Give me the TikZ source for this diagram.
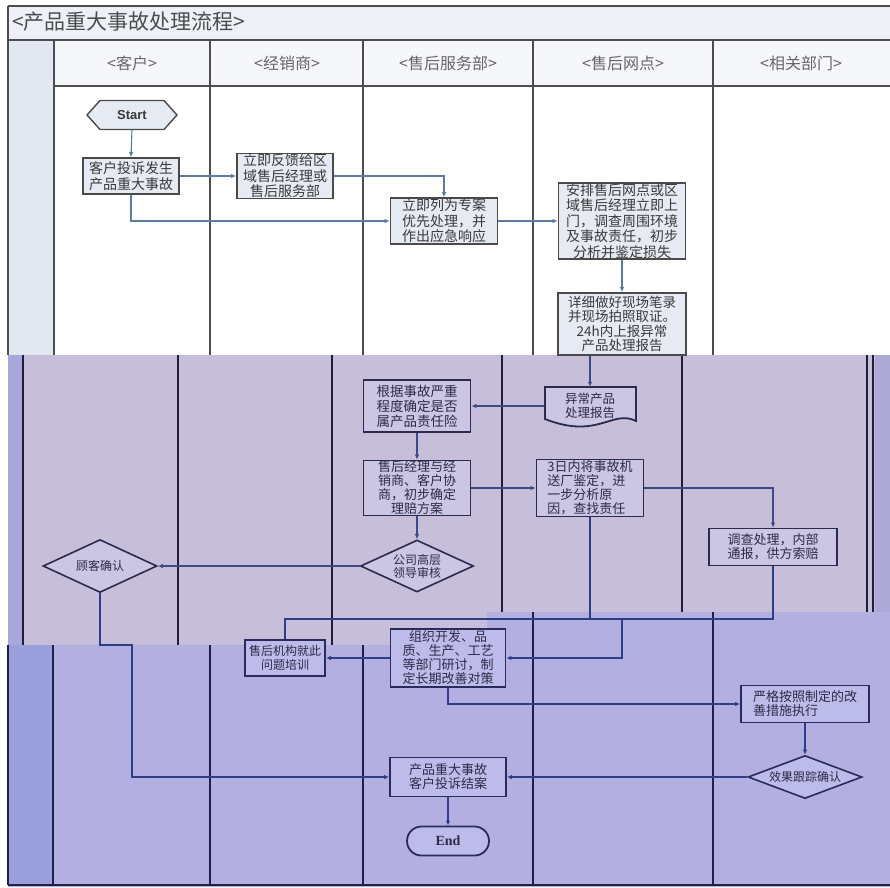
\documentclass[tikz,border=0pt]{standalone}
\usepackage{fontspec}
\setmainfont{Liberation Serif}
\newfontfamily\cjk{Noto Sans CJK SC}
\newfontfamily\sansb{Liberation Sans}
\usetikzlibrary{arrows.meta,shapes.geometric}
\definecolor{titlefill}{HTML}{EDF0F7}
\definecolor{headfill}{HTML}{F6F7FB}
\definecolor{stripA}{HTML}{E2E7F2}
\definecolor{lineA}{HTML}{4A4A4A}
\definecolor{fillA}{HTML}{E6EAF3}
\definecolor{txtA}{HTML}{3A3A3A}
\definecolor{laneA}{HTML}{4D4D4D}
\definecolor{midbg}{HTML}{C7BFD9}
\definecolor{stripB}{HTML}{A7A7D9}
\definecolor{stripBB}{HTML}{ACA9D6}
\definecolor{fillB}{HTML}{CAC6E4}
\definecolor{lineB}{HTML}{2C2A4E}
\definecolor{txtB}{HTML}{2C2B48}
\definecolor{laneB}{HTML}{1F1D3C}
\definecolor{botbg}{HTML}{B3B0E1}
\definecolor{stripC}{HTML}{9A9EDB}
\definecolor{fillC}{HTML}{BDBBEA}
\definecolor{lineC}{HTML}{2A2A5C}
\definecolor{laneC}{HTML}{1F1F4A}
\definecolor{connA}{HTML}{5A7AA8}
\definecolor{connB}{HTML}{3D4A88}
\definecolor{connC}{HTML}{2E3D8A}
\begin{document}
\begin{tikzpicture}[x=1pt,y=-1pt,
  boxA/.style={draw=lineA, fill=fillA, line width=1.6pt, inner sep=0pt, align=center, text=txtA, font=\cjk\fontsize{14}{15.5}\selectfont},
  boxB/.style={draw=lineB, fill=fillB, line width=1.8pt, inner sep=0pt, align=center, text=txtB, font=\cjk\fontsize{13}{14}\selectfont},
  boxC/.style={draw=lineC, fill=fillC, line width=1.8pt, inner sep=0pt, align=center, text=txtB, font=\cjk\fontsize{13}{14}\selectfont},
  diaB/.style={boxB, diamond, line width=1.6pt, font=\cjk\fontsize{12}{13}\selectfont},
  diaC/.style={boxC, diamond, line width=1.6pt, font=\cjk\fontsize{12}{13}\selectfont},
  sz/.style 2 args={minimum width=#1pt, minimum height=#2pt},
  laneA/.style={draw=laneA, line width=1.8pt},
  laneB/.style={draw=laneB, line width=2.2pt},
  laneC/.style={draw=laneC, line width=2.2pt},
  head/.style={font=\cjk\fontsize{16}{18}\selectfont, text=black!60},
  arr/.style={-{Latex[length=5pt,width=4.5pt]}, line width=1.1pt},
  connA/.style={arr, draw=connA},
  connB/.style={arr, draw=connB},
  connC/.style={arr, draw=connC},
  plainC/.style={line width=1.1pt, draw=connC}
]
\useasboundingbox (0,0) rectangle (890,887);
\fill[white] (0,0) rectangle (890,887);
% ---------- top band ----------
\fill[titlefill] (8,6) rectangle (890,40);
\fill[headfill] (54,40) rectangle (890,86);
\fill[stripA] (8,40) rectangle (54,355);
% ---------- middle band ----------
\fill[midbg] (8,355) -- (890,355) -- (890,612) -- (487,612) -- (487,645) -- (8,645) -- cycle;
\fill[stripB] (8,355) rectangle (23,645);
\fill[stripBB] (875,355) rectangle (890,612);
% ---------- bottom band ----------
\fill[botbg] (8,645) -- (487,645) -- (487,612) -- (890,612) -- (890,887) -- (8,887) -- cycle;
\fill[stripC] (8,645) rectangle (53,885);
% lane lines top
\draw[laneA, line width=1.5pt] (8,6) -- (890,6);
\draw[laneA, line width=1.5pt] (8,40) -- (890,40);
\draw[laneA, line width=1.5pt] (54,86) -- (890,86);
\draw[laneA] (8,6) -- (8,355);
\foreach \xx in {54,210,363,533,713} \draw[laneA] (\xx,40) -- (\xx,355);
% lane lines middle
\foreach \xx in {23,178,332} \draw[laneB] (\xx,355) -- (\xx,645);
\foreach \xx in {502,682,867,873} \draw[laneB] (\xx,355) -- (\xx,612);
% lane lines bottom
\foreach \xx in {8,53,210,363} \draw[laneC] (\xx,645) -- (\xx,885);
\foreach \xx in {533,713} \draw[laneC] (\xx,612) -- (\xx,885);
\draw[laneC] (8,885) -- (890,885);
% title and headers
\node[font=\cjk\fontsize{21}{23}\selectfont, text=black!70, anchor=west, inner sep=0pt] (title) at (12,22) {<产品重大事故处理流程>};
\node[head] (h1) at (132,63) {<客户>};
\node[head] (h2) at (287,63) {<经销商>};
\node[head] (h3) at (448,63) {<售后服务部>};
\node[head] (h4) at (623,63) {<售后网点>};
\node[head] (h5) at (801,63) {<相关部门>};
% ---------- top nodes ----------
\filldraw[fill=fillA, draw=lineA, line width=1.4pt] (87,115) -- (100,100.5) -- (164,100.5) -- (177,115) -- (164,129.5) -- (100,129.5) -- cycle;
\node[font=\sansb\bfseries\fontsize{13}{15}\selectfont, text=txtA, sz={90}{29}, inner sep=0pt] (start) at (132,115) {Start};
\node[boxA, sz={96}{36}] (kehu) at (131,176) {客户投诉发生\\产品重大事故};
\node[boxA, sz={96}{45}] (fankui) at (285,176) {立即反馈给区\\域售后经理或\\售后服务部};
\node[boxA, sz={107}{46}] (liji) at (444,221) {立即列为专案\\优先处理，并\\作出应急响应};
\node[boxA, sz={127}{76}] (anpai) at (622,221) {安排售后网点或区\\域售后经理立即上\\门，调查周围环境\\及事故责任，初步\\分析并鉴定损失};
\node[boxA, sz={128}{62}, font=\cjk\fontsize{13.5}{14.5}\selectfont] (xiangxi) at (622,324) {详细做好现场笔录\\并现场拍照取证。\\24h内上报异常\\产品处理报告};
% ---------- middle nodes ----------
\filldraw[fill=fillB, draw=lineB, line width=1.8pt] (545,387) -- (636,387) -- (636,421) .. controls (612,409) and (598,440) .. (545,419) -- cycle;
\node[inner sep=0pt, sz={91}{38}, align=center, text=txtB, font=\cjk\fontsize{12.5}{14}\selectfont] (yichang) at (590,406) {异常产品\\处理报告};
\node[boxB, sz={107}{52}, font=\cjk\fontsize{13.5}{15}\selectfont] (genju) at (417,406) {根据事故严重\\程度确定是否\\属产品责任险};
\node[boxB, sz={107}{55}] (shouhou) at (417,488) {售后经理与经\\销商、客户协\\商，初步确定\\理赔方案};
\node[boxB, sz={107}{57}, align=left] (sanri) at (590,488) {3日内将事故机\\送厂鉴定，进\\一步分析原\\因，查找责任};
\node[diaB, sz={113}{52}, shape aspect=2.17] (gongsi) at (417,566) {公司高层\\领导审核};
\node[diaB, sz={114}{53}, shape aspect=2.15] (guke) at (100,566) {顾客确认};
\node[boxB, sz={128}{37}] (diaocha) at (773,547) {调查处理，内部\\通报，供方索赔};
% ---------- bottom nodes ----------
\node[boxC, sz={80}{36}, font=\cjk\fontsize{12}{13.5}\selectfont] (shouhouji) at (285,658) {售后机构就此\\问题培训};
\node[boxC, sz={115}{58}] (zuzhi) at (448,658) {组织开发、品\\质、生产、工艺\\等部门研讨，制\\定长期改善对策};
\node[boxC, sz={128}{37}, align=left] (yange) at (805,704) {严格按照制定的改\\善措施执行};
\node[diaC, sz={114}{43}, shape aspect=2.65] (xiaoguo) at (805,777) {效果跟踪确认};
\node[boxC, sz={116}{39}] (jiean) at (448,777) {产品重大事故\\客户投诉结案};
\node[boxC, sz={82}{29}, rounded corners=14.5pt, font=\rmfamily\bfseries\fontsize{14}{16}\selectfont] (end) at (448,841) {End};
% ---------- connectors ----------
\coordinate (b1) at (132,645);
\coordinate (j1) at (622,619);
\draw[connA] (start.south) -- (kehu.north);
\draw[connA] (kehu.east) -- (fankui.west);
\draw[connA] (fankui.east) -| (liji.north);
\draw[connA] (kehu.south) |- (liji.west);
\draw[connA] (liji.east) -- (anpai.west);
\draw[connA] (anpai.south) -- (xiangxi.north);
\draw[connB] (xiangxi.south -| yichang.north) -- (yichang.north);
\draw[connB] (yichang.west) -- (genju.east);
\draw[connB] (genju.south) -- (shouhou.north);
\draw[connB] (shouhou.east) -- (sanri.west);
\draw[connB] (sanri.east) -| (diaocha.north);
\draw[connB] (shouhou.south) -- (gongsi.north);
\draw[connB] (gongsi.west) -- (guke.east);
\draw[connC] (guke.south) -- (guke.south |- b1) -- (b1) -- (jiean.west -| b1) -- (jiean.west);
\draw[connC] (sanri.south) -- (sanri.south |- j1) -- (j1) -- (j1 |- zuzhi.east) -- (zuzhi.east);
\draw[plainC] (diaocha.south) |- (shouhouji.north |- j1) -- (shouhouji.north);
\draw[connC] (zuzhi.west) -- (shouhouji.east);
\draw[connC] (zuzhi.south) |- (yange.west);
\draw[connC] (yange.south) -- (xiaoguo.north);
\draw[connC] (xiaoguo.west) -- (jiean.east);
\draw[connC] (jiean.south) -- (end.north);
\end{tikzpicture}
\end{document}
